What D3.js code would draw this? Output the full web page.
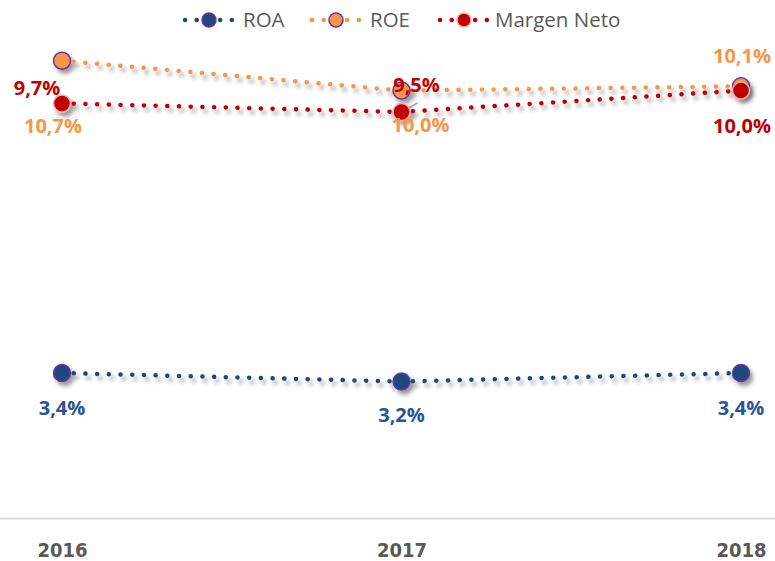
<!DOCTYPE html>
<html>
<head>
<meta charset="utf-8">
<script src="https://cdn.jsdelivr.net/npm/d3@7"></script>
<style>
  body { margin: 0; background: #fff; }
  svg { display: block; font-family: "Open Sans", "Noto Sans", sans-serif; }
</style>
</head>
<body>
<svg id="chart" width="775" height="561"></svg>
<script>
// data
const years = ["2016", "2017", "2018"];
const roa = [3.4, 3.2, 3.4];
const roe = [10.7, 10.0, 10.1];
const margen = [9.7, 9.5, 10.0];
const seriesNames = ["ROA", "ROE", "Margen Neto"];

// styling / label placement (offsets from the point: dx, baseline dy)
const colors = { ROA: "#1F497D", ROE: "#F79646", "Margen Neto": "#C00000" };
const labelColors = { ROA: "#2B5590", ROE: "#F79646", "Margen Neto": "#C00000" };
const markerStroke = { ROA: "#7030A0", ROE: "#7030A0", "Margen Neto": "#F2AFAF" };
const labelOffsets = {
  ROA: [[0, 42], [0, 40], [0, 42]],
  ROE: [[-9, 72], [19, 41], [1, -23]],
  "Margen Neto": [[-25, -8], [15, -20], [1, 42]]
};

const W = 775, H = 561;
const svg = d3.select("#chart");

const x = d3.scalePoint().domain(years).range([62, 741]);
const y = d3.scaleLinear().domain([0, 12]).range([518.5, 5]);

const defs = svg.append("defs");
const f = defs.append("filter").attr("id", "shadow")
  .attr("x", "-10%").attr("y", "-50%").attr("width", "120%").attr("height", "200%");
f.append("feDropShadow").attr("dx", 3).attr("dy", 4).attr("stdDeviation", 2.2)
  .attr("flood-color", "#000").attr("flood-opacity", 0.4);

// axis
const axis = svg.append("g")
  .attr("transform", `translate(0,${y(0)})`)
  .call(d3.axisBottom(x).tickSize(0).tickPadding(24));
axis.select(".domain").remove();
axis.selectAll("text")
  .attr("font-family", "'Liberation Sans Narrow', 'DejaVu Sans Condensed', 'Open Sans', sans-serif")
  .attr("font-weight", "bold")
  .attr("font-size", 20)
  .attr("fill", "#595959");
svg.append("line")
  .attr("x1", 0).attr("x2", W).attr("y1", y(0)).attr("y2", y(0))
  .attr("stroke", "#D9D9D9").attr("stroke-width", 2);

const series = seriesNames.map((name, k) => ({ name, values: [roa, roe, margen][k] }));

const line = d3.line().x((d, i) => x(years[i])).y(d => y(d));

// leader line from 2017 margen point
svg.append("line")
  .attr("x1", x("2017")).attr("y1", y(margen[1]))
  .attr("x2", x("2017") + 16).attr("y2", y(margen[1]) - 9)
  .attr("stroke", "#A6A6A6").attr("stroke-width", 1.5);

series.forEach(s => {
  const g = svg.append("g").attr("filter", "url(#shadow)");
  g.append("path")
    .attr("d", line(s.values))
    .attr("fill", "none")
    .attr("stroke", colors[s.name])
    .attr("stroke-width", 4.5)
    .attr("stroke-linecap", "round")
    .attr("stroke-dasharray", "0.1 11.6");
  g.selectAll("circle")
    .data(s.values)
    .join("circle")
    .attr("cx", (d, i) => x(years[i]))
    .attr("cy", d => y(d))
    .attr("r", 8.5)
    .attr("fill", colors[s.name])
    .attr("stroke", markerStroke[s.name])
    .attr("stroke-width", 1.5);
});

series.forEach(s => {
  svg.append("g").selectAll("text")
    .data(s.values)
    .join("text")
    .attr("x", (d, i) => x(years[i]) + labelOffsets[s.name][i][0])
    .attr("y", (d, i) => y(d) + labelOffsets[s.name][i][1])
    .attr("text-anchor", "middle")
    .attr("font-weight", "bold")
    .attr("font-size", 20)
    .attr("fill", labelColors[s.name])
    .text(d => d.toFixed(1).replace(".", ",") + "%");
});

// legend
const legendItems = [
  { name: "ROA", x0: 185, text: 243 },
  { name: "ROE", x0: 312, text: 370 },
  { name: "Margen Neto", x0: 440, text: 495 }
];
const ly = 20;
legendItems.forEach(it => {
  const g = svg.append("g");
  g.append("line")
    .attr("x1", it.x0).attr("x2", it.x0 + 47).attr("y1", ly).attr("y2", ly)
    .attr("stroke", colors[it.name]).attr("stroke-width", 4.5)
    .attr("stroke-linecap", "round").attr("stroke-dasharray", "0.1 11.6");
  g.append("circle")
    .attr("cx", it.x0 + 24).attr("cy", ly).attr("r", 7)
    .attr("fill", colors[it.name])
    .attr("stroke", markerStroke[it.name]).attr("stroke-width", 1.5);
  g.append("text")
    .attr("x", it.text).attr("y", ly + 7)
    .attr("font-size", 20.5)
    .attr("fill", "#595959")
    .text(it.name);
});
</script>
</body>
</html>
